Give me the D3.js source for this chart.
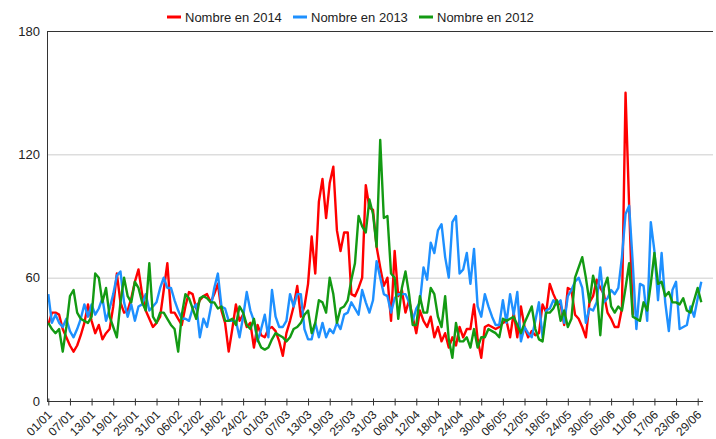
<!DOCTYPE html>
<html>
<head>
<meta charset="utf-8">
<script src="https://cdn.jsdelivr.net/npm/d3@7"></script>
<style>
  body { margin: 0; background: #fff; }
  svg { display: block; font-family: "Liberation Sans", Arial, sans-serif; }
</style>
</head>
<body>
<div id="chart"></div>
<script>
// Séries journalières (1er janvier -> 30 juin), une valeur par jour
const nombre2014 = [37, 43, 43, 42, 35, 31, 27, 24, 27, 32, 38, 47, 39, 33, 37, 30, 33, 35, 46, 62,
  48, 43, 44, 50, 58, 64, 52, 44, 40, 36, 38, 41, 54, 67, 43, 43, 40, 37, 46, 53,
  52, 45, 49, 51, 52, 48, 52, 57, 44, 38, 24, 35, 47, 39, 42, 36, 38, 26, 37, 32,
  31, 35, 36, 34, 29, 22, 33, 39, 46, 56, 41, 46, 57, 80, 62, 97, 108, 89, 106, 114,
  83, 73, 82, 82, 52, 51, 55, 60, 105, 94, 93, 75, 65, 56, 60, 39, 73, 51, 54, 43,
  49, 41, 33, 44, 39, 36, 41, 31, 36, 29, 33, 26, 31, 27, 36, 31, 35, 35, 47, 30,
  21, 36, 37, 36, 35, 36, 38, 39, 31, 43, 31, 46, 36, 31, 34, 32, 33, 47, 43, 57,
  52, 48, 47, 37, 55, 54, 42, 40, 36, 31, 48, 51, 59, 55, 52, 43, 40, 36, 36, 45,
  150, 95, 42];

const nombre2013 = [52, 38, 42, 38, 36, 40, 34, 31, 35, 40, 47, 41, 47, 42, 45, 50, 39, 45, 52, 61,
  63, 48, 41, 47, 39, 46, 47, 52, 44, 46, 48, 55, 60, 55, 55, 49, 44, 40, 40, 39,
  45, 47, 31, 40, 36, 45, 55, 62, 46, 45, 39, 39, 39, 31, 41, 53, 44, 39, 29, 35,
  42, 31, 54, 41, 36, 36, 39, 52, 46, 52, 52, 35, 30, 30, 38, 31, 38, 31, 35, 33,
  38, 35, 42, 43, 48, 45, 42, 54, 48, 43, 49, 68, 60, 52, 51, 43, 50, 52, 52, 52,
  48, 39, 45, 48, 65, 59, 77, 72, 83, 86, 70, 60, 87, 90, 62, 64, 72, 57, 74, 46,
  41, 52, 46, 41, 37, 37, 49, 38, 52, 42, 53, 29, 36, 33, 31, 39, 48, 31, 44, 45,
  49, 47, 49, 38, 51, 54, 58, 60, 55, 38, 45, 44, 48, 65, 48, 50, 54, 52, 55, 70,
  91, 95, 67, 35, 57, 56, 39, 87, 73, 49, 72, 48, 34, 54, 58, 35, 36, 37, 46, 41,
  50, 58];

const nombre2012 = [38, 35, 33, 35, 24, 36, 51, 54, 43, 40, 39, 38, 41, 62, 60, 48, 55, 41, 36, 31,
  48, 60, 51, 48, 58, 55, 48, 44, 67, 41, 38, 43, 43, 40, 37, 35, 24, 42, 52, 50,
  45, 40, 50, 51, 50, 48, 48, 45, 46, 39, 39, 40, 37, 46, 43, 37, 35, 40, 30, 26,
  25, 26, 30, 33, 32, 31, 29, 31, 35, 36, 38, 42, 44, 33, 38, 49, 48, 43, 60, 52,
  38, 45, 46, 49, 59, 67, 90, 85, 82, 98, 91, 75, 127, 89, 90, 62, 60, 40, 55, 63,
  52, 37, 37, 51, 43, 43, 55, 52, 41, 36, 51, 30, 21, 38, 29, 29, 31, 26, 35, 26,
  31, 31, 35, 34, 33, 31, 40, 39, 40, 41, 37, 33, 38, 42, 46, 35, 30, 29, 43, 43,
  45, 49, 39, 44, 36, 40, 60, 65, 70, 60, 48, 61, 54, 32, 55, 60, 46, 43, 46, 44,
  55, 67, 41, 40, 39, 48, 44, 57, 72, 57, 58, 51, 53, 48, 48, 47, 50, 44, 43, 49,
  55, 48];

// Étiquettes de l'axe X (un jour sur six)
const tickLabels = ["01/01", "07/01", "13/01", "19/01", "25/01", "31/01", "06/02", "12/02",
  "18/02", "24/02", "01/03", "07/03", "13/03", "19/03", "25/03", "31/03", "06/04", "12/04",
  "18/04", "24/04", "30/04", "06/05", "12/05", "18/05", "24/05", "30/05", "05/06", "11/06",
  "17/06", "23/06", "29/06"];
const yTicks = [0, 60, 120, 180];

const series = [
  { name: "Nombre en 2014", color: "#ff0000", values: nombre2014 },
  { name: "Nombre en 2013", color: "#1e90ff", values: nombre2013 },
  { name: "Nombre en 2012", color: "#139a13", values: nombre2012 }
];

const width = 716;
const height = 439;
const margin = { top: 31, right: 3, bottom: 38, left: 47 };

const x = d3.scaleLinear()
  .domain([0, 180])
  .range([48.3, 697.7]);

const y = d3.scaleLinear()
  .domain([0, 180])
  .range([height - margin.bottom, margin.top]);

const svg = d3.select("#chart").append("svg")
  .attr("width", width)
  .attr("height", height);

// Lignes de grille
svg.append("g")
  .selectAll("line")
  .data(yTicks.filter(d => d > 0))
  .enter().append("line")
  .attr("x1", margin.left)
  .attr("x2", width - margin.right)
  .attr("y1", d => y(d) + 0.5)
  .attr("y2", d => y(d) + 0.5)
  .attr("stroke", d => d === 180 ? "#333" : "#cccccc")
  .attr("stroke-width", 1);

// Axe Y (étiquettes seulement)
const yAxis = svg.append("g")
  .attr("transform", `translate(${margin.left},0)`)
  .call(d3.axisLeft(y).tickValues(yTicks).tickSize(0).tickPadding(7));
yAxis.select(".domain").remove();
yAxis.selectAll("text")
  .attr("font-size", 13)
  .attr("font-family", "Liberation Sans, Arial, sans-serif")
  .attr("fill", "#222");

// Courbes
const line = d3.line()
  .x((d, i) => x(i))
  .y(d => y(d));

series.forEach(s => {
  svg.append("path")
    .datum(s.values)
    .attr("d", line)
    .attr("fill", "none")
    .attr("stroke", s.color)
    .attr("stroke-width", 2.4)
    .attr("stroke-linejoin", "round");
});

// Axe gauche
svg.append("line")
  .attr("x1", margin.left + 0.5).attr("x2", margin.left + 0.5)
  .attr("y1", margin.top).attr("y2", height - margin.bottom)
  .attr("stroke", "#333");

// Axe X
const xAxis = svg.append("g")
  .attr("transform", `translate(0,${height - margin.bottom + 0.5})`)
  .call(d3.axisBottom(x)
    .tickValues(tickLabels.map((d, i) => i * 6))
    .tickFormat((d, i) => tickLabels[i])
    .tickSizeInner(4)
    .tickSizeOuter(0));
xAxis.select(".domain")
  .attr("d", `M${margin.left},0H703`)
  .attr("stroke", "#333");
xAxis.selectAll(".tick line")
  .attr("y1", -3)
  .attr("stroke", "#333");
xAxis.selectAll(".tick text")
  .attr("font-size", 12)
  .attr("font-family", "Liberation Sans, Arial, sans-serif")
  .attr("fill", "#222")
  .attr("text-anchor", "end")
  .attr("dy", null)
  .attr("transform", "translate(4,14) rotate(-45)")
  .attr("y", 0)
  .attr("x", 0);

// Légende
const legend = svg.append("g").attr("transform", "translate(167,17)");
let lx = 0;
series.forEach(s => {
  const g = legend.append("g").attr("transform", `translate(${lx},0)`);
  g.append("line")
    .attr("x1", 0).attr("x2", 14)
    .attr("y1", 0).attr("y2", 0)
    .attr("stroke", s.color)
    .attr("stroke-width", 3);
  g.append("text")
    .attr("x", 18)
    .attr("y", 4.5)
    .attr("font-size", 13)
    .attr("fill", "#222")
    .text(s.name);
  lx += 126;
});
</script>
</body>
</html>
